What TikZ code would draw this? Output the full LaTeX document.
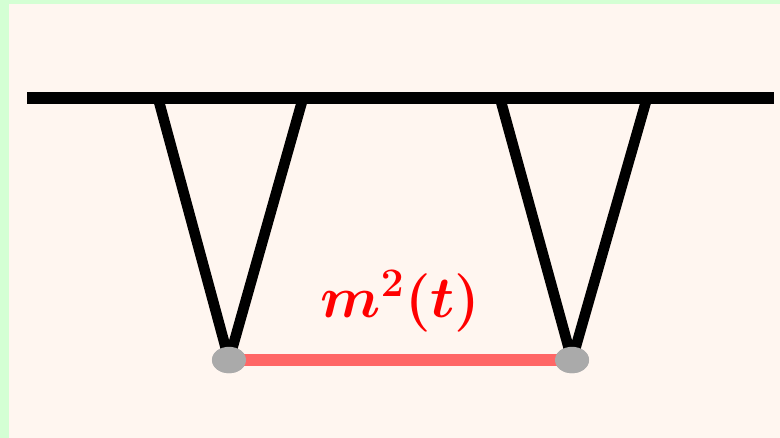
\documentclass[tikz,border=0pt]{standalone}
\usepackage{amsmath,amssymb,bm}
\usepackage{xcolor}
\usetikzlibrary{positioning,shapes.geometric}
\definecolor{bggreen}{HTML}{D4FFD4}
\definecolor{bgcream}{HTML}{FFF6F0}
\definecolor{linkred}{HTML}{FF6666}
\definecolor{dotgray}{HTML}{AAAAAA}

\begin{document}
\begin{tikzpicture}[x=0.025cm,y=-0.025cm,
  bar/.style={line width=8.5pt},
  arm/.style={line width=7.5pt,line join=bevel},
  link/.style={draw=linkred,line width=8.5pt},
  dot/.style={ellipse,fill=dotgray,minimum width=0.85cm,minimum height=0.66cm,inner sep=0pt},
  lbl/.style={text=red,font=\huge,scale=2.0,transform shape,inner sep=0pt}]
\useasboundingbox (0,0) rectangle (780,438);
% background
\fill[bggreen] (0,0) rectangle (780,438);
\fill[bgcream] (9,4) rectangle (780,438);
% ceiling
\coordinate (cl) at (27,98);
\coordinate (cr) at (774,98);
\draw[bar] (cl) -- (cr);
% pivots
\coordinate (p1) at (158,98);
\coordinate (p2) at (303,98);
\coordinate (p3) at (500,98);
\coordinate (p4) at (647,98);
\node[dot] (d1) at (229,360) {};
\node[dot] (d2) at (572,360) {};
% arms
\draw[arm] (p1) -- (d1.center) -- (p2);
\draw[arm] (p3) -- (d2.center) -- (p4);
% link m^2(t)
\draw[link] (d1.center) -- coordinate[midway] (mid) (d2.center);
\node[dot] at (d1) {};
\node[dot] at (d2) {};
\node[lbl,above=0.68cm of mid] (m2) {$\bm{m^2(t)}$};
\end{tikzpicture}
\end{document}
